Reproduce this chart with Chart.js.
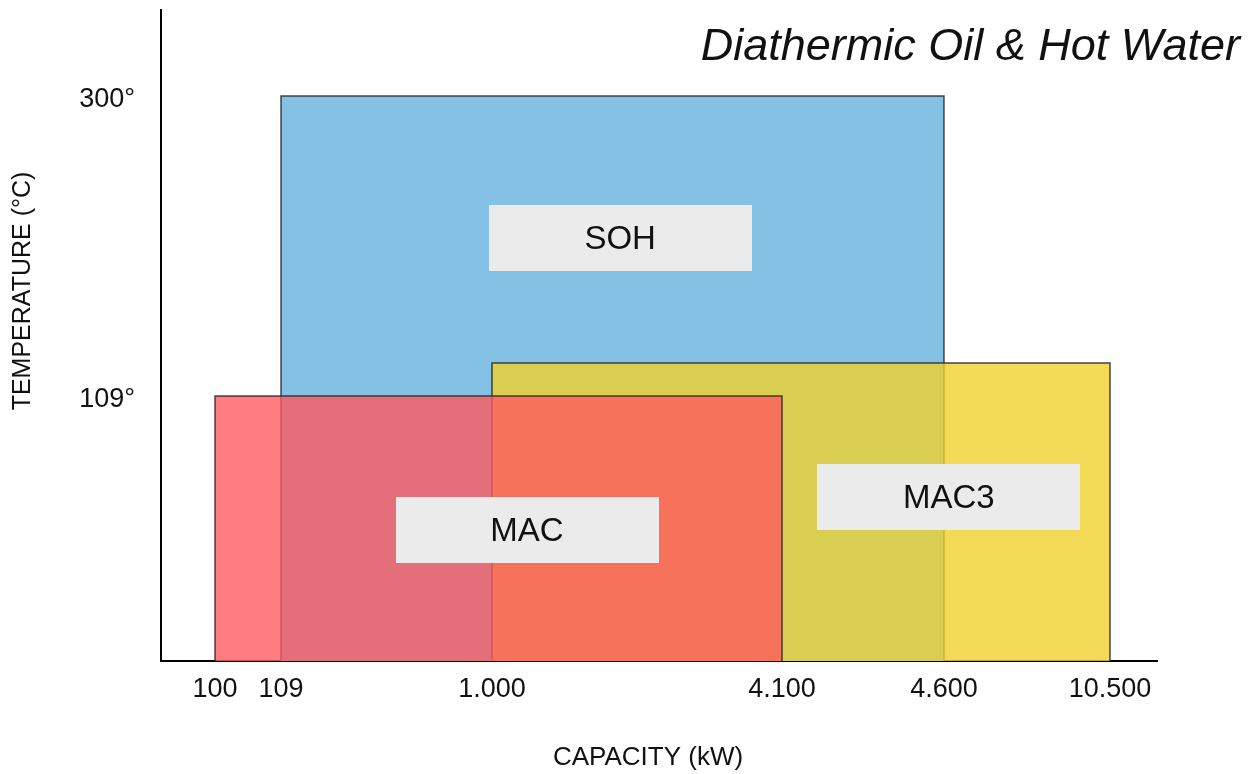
<!DOCTYPE html>
<html>
<head>
<meta charset="utf-8">
<title>Diathermic Oil & Hot Water</title>
<script src="https://cdn.jsdelivr.net/npm/chart.js@4/dist/chart.umd.min.js"></script>
<style>
  html, body { margin: 0; padding: 0; background: #fff; }
  #wrap { width: 1253px; height: 774px; position: relative; }
</style>
</head>
<body>
<div id="wrap"><canvas id="rangeChart"></canvas></div>
<script>
// capacity ticks (kW) and their printed labels
const capacityTicks = [100, 109, 1000, 4100, 4600, 10500];
const capacityLabels = ['100', '109', '1.000', '4.100', '4.600', '10.500'];

// temperature ticks (°C)
const temperatureTicks = [109, 300];
const temperatureLabels = ['109°', '300°'];

// product ranges
const products = ['MAC', 'MAC3', 'SOH'];
const capacityFrom = [100, 1000, 109];
const capacityTo = [4100, 10500, 4600];
const temperatureMax = [109, 130, 300];

const FONT = '"Liberation Sans", Arial, Helvetica, sans-serif';

// the drawing is schematic: axes are stretched piecewise between the key values
const AXIS_STOPS = {
  x: [[0, 0], [100, 0.0542], [109, 0.1205], [1000, 0.3323], [4100, 0.6235], [4600, 0.7861], [10500, 0.9528], [12000, 1]],
  y: [[0, 0], [109, 0.4071], [300, 0.8679], [355, 1]],
};

function interp(stops, v, from, to) {
  if (v <= stops[0][from]) return stops[0][to];
  for (let i = 1; i < stops.length; i++) {
    const a = stops[i - 1];
    const b = stops[i];
    if (v <= b[from]) {
      return a[to] + ((v - a[from]) / (b[from] - a[from])) * (b[to] - a[to]);
    }
  }
  return stops[stops.length - 1][to];
}

class PiecewiseScale extends Chart.LinearScale {
  getPixelForValue(value) {
    if (value === null || isNaN(value)) return NaN;
    return this.getPixelForDecimal(interp(AXIS_STOPS[this.id], value, 0, 1));
  }
  getValueForPixel(pixel) {
    return interp(AXIS_STOPS[this.id], this.getDecimalForPixel(pixel), 1, 0);
  }
}
PiecewiseScale.id = 'piecewise';
PiecewiseScale.defaults = {};
Chart.register(PiecewiseScale);

const fills = ['rgba(255, 89, 92, 0.78)', 'rgba(239, 209, 45, 0.8)', 'rgb(132, 193, 228)'];

// label boxes, as fractions of the plot area
const tagLayout = [
  { cx: 0.3675, cy: 0.799 },
  { cx: 0.791, cy: 0.748 },
  { cx: 0.461, cy: 0.350 },
];

const tagPlugin = {
  id: 'tags',
  afterDatasetsDraw(chart) {
    const { ctx, chartArea } = chart;
    const w = chartArea.right - chartArea.left;
    const h = chartArea.bottom - chartArea.top;
    ctx.save();
    products.forEach((name, i) => {
      const cx = chartArea.left + tagLayout[i].cx * w;
      const cy = chartArea.top + tagLayout[i].cy * h;
      ctx.fillStyle = '#ebebeb';
      ctx.fillRect(Math.round(cx - 131.5), Math.round(cy - 33), 263, 66);
      ctx.fillStyle = '#111';
      ctx.font = `33px ${FONT}`;
      ctx.textAlign = 'center';
      ctx.textBaseline = 'middle';
      ctx.fillText(name, cx, cy + 2);
    });
    ctx.restore();
  },
  afterDraw(chart) {
    const { ctx } = chart;
    ctx.save();
    ctx.fillStyle = '#111';
    ctx.textBaseline = 'middle';
    ctx.textAlign = 'right';
    ctx.font = `italic 45px ${FONT}`;
    ctx.fillText('Diathermic Oil & Hot Water', 1240, 47);

    ctx.textAlign = 'center';
    ctx.font = `26px ${FONT}`;
    ctx.fillText('CAPACITY (kW)', 648, 758);

    ctx.font = `25px ${FONT}`;
    ctx.translate(23, 291);
    ctx.rotate(-Math.PI / 2);
    ctx.fillText('TEMPERATURE (°C)', 0, 0);
    ctx.restore();
  },
};

const datasets = products.map((name, i) => ({
  label: name,
  data: [
    { x: capacityFrom[i], y: 0 },
    { x: capacityFrom[i], y: temperatureMax[i] },
    { x: capacityTo[i], y: temperatureMax[i] },
    { x: capacityTo[i], y: 0 },
  ],
  fill: 'origin',
  backgroundColor: fills[i],
  borderColor: 'rgba(40, 40, 40, 0.85)',
  borderWidth: 1.5,
  pointRadius: 0,
  tension: 0,
}));

new Chart(document.getElementById('rangeChart'), {
  type: 'line',
  data: { datasets },
  plugins: [tagPlugin],
  options: {
    responsive: true,
    maintainAspectRatio: false,
    animation: false,
    layout: { padding: { top: 10, right: 96, left: 0, bottom: 0 } },
    plugins: {
      legend: { display: false },
      tooltip: { enabled: false },
    },
    scales: {
      x: {
        type: 'piecewise',
        min: 0,
        max: 12000,
        afterFit: (scale) => {
          scale.height = 113;
          scale.paddingLeft = 0;
          scale.paddingRight = 0;
        },
        afterBuildTicks: (scale) => { scale.ticks = capacityTicks.map((v) => ({ value: v })); },
        grid: { display: false, drawTicks: false },
        border: { display: true, color: '#000', width: 2 },
        ticks: {
          autoSkip: false,
          maxRotation: 0,
          padding: 12,
          color: '#111',
          font: { family: FONT, size: 27 },
          callback: (value, index) => capacityLabels[index],
        },
      },
      y: {
        type: 'piecewise',
        min: 0,
        max: 355,
        afterFit: (scale) => {
          scale.width = 161;
          scale.paddingTop = 0;
          scale.paddingBottom = 0;
        },
        afterBuildTicks: (scale) => { scale.ticks = temperatureTicks.map((v) => ({ value: v })); },
        grid: { display: false, drawTicks: false },
        border: { display: true, color: '#000', width: 2 },
        ticks: {
          autoSkip: false,
          padding: 26,
          labelOffset: 4,
          color: '#111',
          font: { family: FONT, size: 27 },
          callback: (value, index) => temperatureLabels[index],
        },
      },
    },
  },
});
</script>
</body>
</html>
